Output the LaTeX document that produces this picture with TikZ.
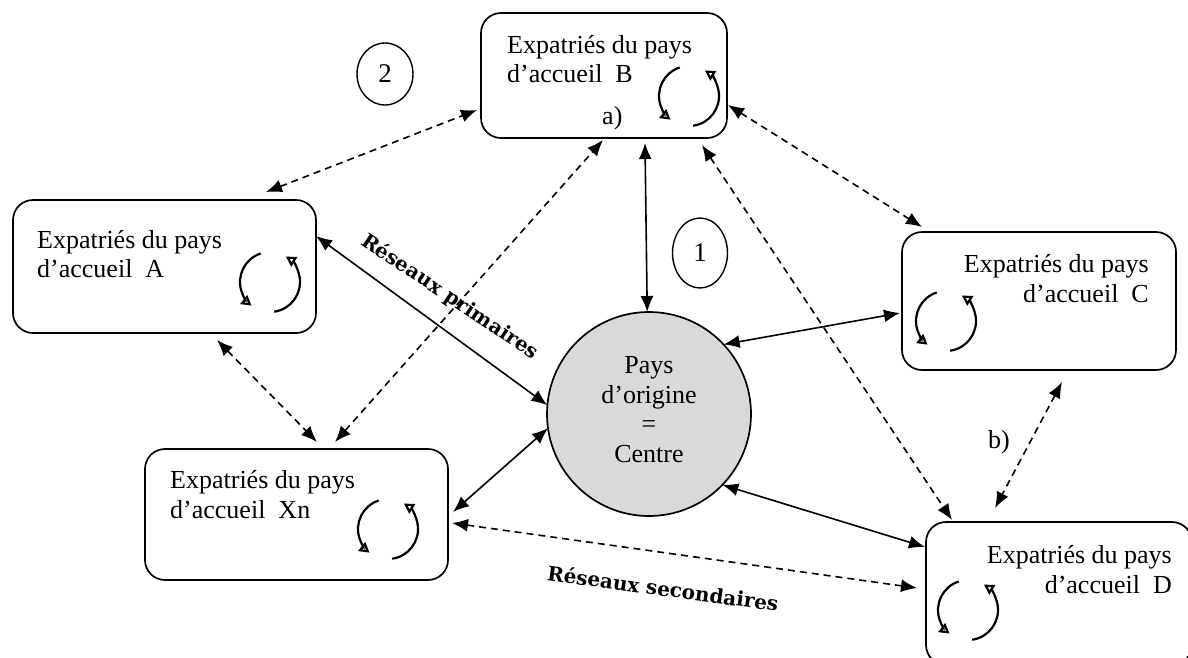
\documentclass[tikz,border=0pt]{standalone}
\usepackage{fontspec}
\setmainfont{Liberation Serif}
\newfontfamily\labfont{DejaVu Serif}
\usetikzlibrary{arrows.meta,calc,shapes.geometric}
\tikzset{
  box/.style={draw, line width=1.7pt, rounded corners=20pt, inner sep=0pt, outer sep=0pt},
  txt/.style={font=\fontsize{26}{30}\selectfont, inner sep=0pt},
  con/.style={line width=1.6pt, {Latex[length=16pt,width=13pt]}-{Latex[length=16pt,width=13pt]}},
  dcon/.style={con, dash pattern=on 7pt off 5pt},
  lab/.style={font=\labfont\bfseries\fontsize{20}{24}\selectfont, inner sep=0pt},
  num/.style={draw, ellipse, line width=1.4pt, inner sep=0pt, font=\fontsize{27}{30}\selectfont},
  cyc/.style={line width=2.2pt, -{Triangle[open, length=10pt, width=11pt]}},
  pics/cycle/.style={code={
    \draw[cyc] (-108:30) arc[start angle=-108, end angle=-232, radius=30];
    \draw[cyc] (82:30) arc[start angle=82, end angle=-58, radius=30];
  }}
}
\begin{document}
\begin{tikzpicture}[x=1pt,y=-1pt]
\useasboundingbox (0,0) rectangle (1188,657);
\clip (0,0) rectangle (1188,657);

% boxes
\node[box, minimum width=303pt, minimum height=133pt] (A) at (164.5,266.5) {};
\node[box, minimum width=246pt, minimum height=125pt] (B) at (604,75.5) {};
\node[box, minimum width=274pt, minimum height=138pt] (C) at (1039,301) {};
\node[box, minimum width=303pt, minimum height=131pt] (Xn) at (296.5,514.5) {};
\node[box, minimum width=266pt, minimum height=143pt] (D) at (1059,593.5) {};

% centre
\node[draw, circle, fill=gray!30, line width=1.7pt, minimum size=204pt, inner sep=0pt, outer sep=0pt] (O) at (649,414) {};
\node[txt, anchor=base] (o1) at (649,373) {Pays};
\node[txt, anchor=base] (o2) at (649,403) {d’origine};
\node[txt, anchor=base] (o3) at (649,432) {=};
\node[txt, anchor=base] (o4) at (649,462) {Centre};

% texts
\node[txt, anchor=base west] (a1) at (37,248) {Expatriés du pays};
\node[txt, anchor=base west] (a2) at (37,277) {d’accueil\ \ A};
\node[txt, anchor=base west] (b1) at (507,53) {Expatriés du pays};
\node[txt, anchor=base west] (b2) at (507,82) {d’accueil\ \ B};
\node[txt, anchor=base east] (c1) at (1149,272) {Expatriés du pays};
\node[txt, anchor=base east] (c2) at (1149,302) {d’accueil\ \ C};
\node[txt, anchor=base west] (x1) at (170,488) {Expatriés du pays};
\node[txt, anchor=base west] (x2) at (170,518) {d’accueil\ \ Xn};
\node[txt, anchor=base east] (d1) at (1172,563) {Expatriés du pays};
\node[txt, anchor=base east] (d2) at (1172,593) {d’accueil\ \ D};
\node[txt, anchor=base west] (la) at (602,124) {a)};
\node[txt, anchor=base west] (lb) at (988,448) {b)};

% numbers
\node[num, minimum width=55pt, minimum height=70pt] (n1) at (700,253) {1};
\node[num, minimum width=56pt, minimum height=62pt] (n2) at (385,74) {2};

% cycles
\pic at (270,282) {cycle};
\pic at (689,96) {cycle};
\pic at (946,321) {cycle};
\pic at (388,529) {cycle};
\pic at (968,610) {cycle};

% labels
\node[lab, rotate=-33.7] (rp) at (450,297) {Réseaux primaires};
\node[lab, rotate=-7.7] (rs) at (663,588) {Réseaux secondaires};

% solid connectors
\draw[con] ($(B.south west)+(164,5)$) -- (O.91);
\draw[con] ($(A.north east)+(0,36)$) -- (O.175);
\draw[con] ($(Xn.north east)+(5,63)$) -- (O.188);
\draw[con] (O.316) -- ($(D.north west)+(-1,25)$);
\draw[con] (O.43) -- ($(C.north west)+(-2,81)$);

% dashed connectors
\draw[dcon] ($(A.north west)+(253,-8)$) -- ($(B.north west)+(-4,97)$);
\draw[dcon] ($(Xn.north west)+(190,-7)$) -- ($(B.south west)+(122,2)$);
\draw[dcon] ($(A.south west)+(204,7)$) -- ($(Xn.north west)+(172,-7)$);
\draw[dcon] ($(Xn.north east)+(4,74)$) -- ($(D.north west)+(-9,66)$);
\draw[dcon] ($(B.south east)+(-25,7)$) -- ($(D.north west)+(26,-2)$);
\draw[dcon] ($(C.south west)+(160,12)$) -- ($(D.north west)+(69,-14)$);
\draw[dcon] ($(B.north east)+(1,92)$) -- ($(C.north west)+(20,-5)$);
\end{tikzpicture}
\end{document}
